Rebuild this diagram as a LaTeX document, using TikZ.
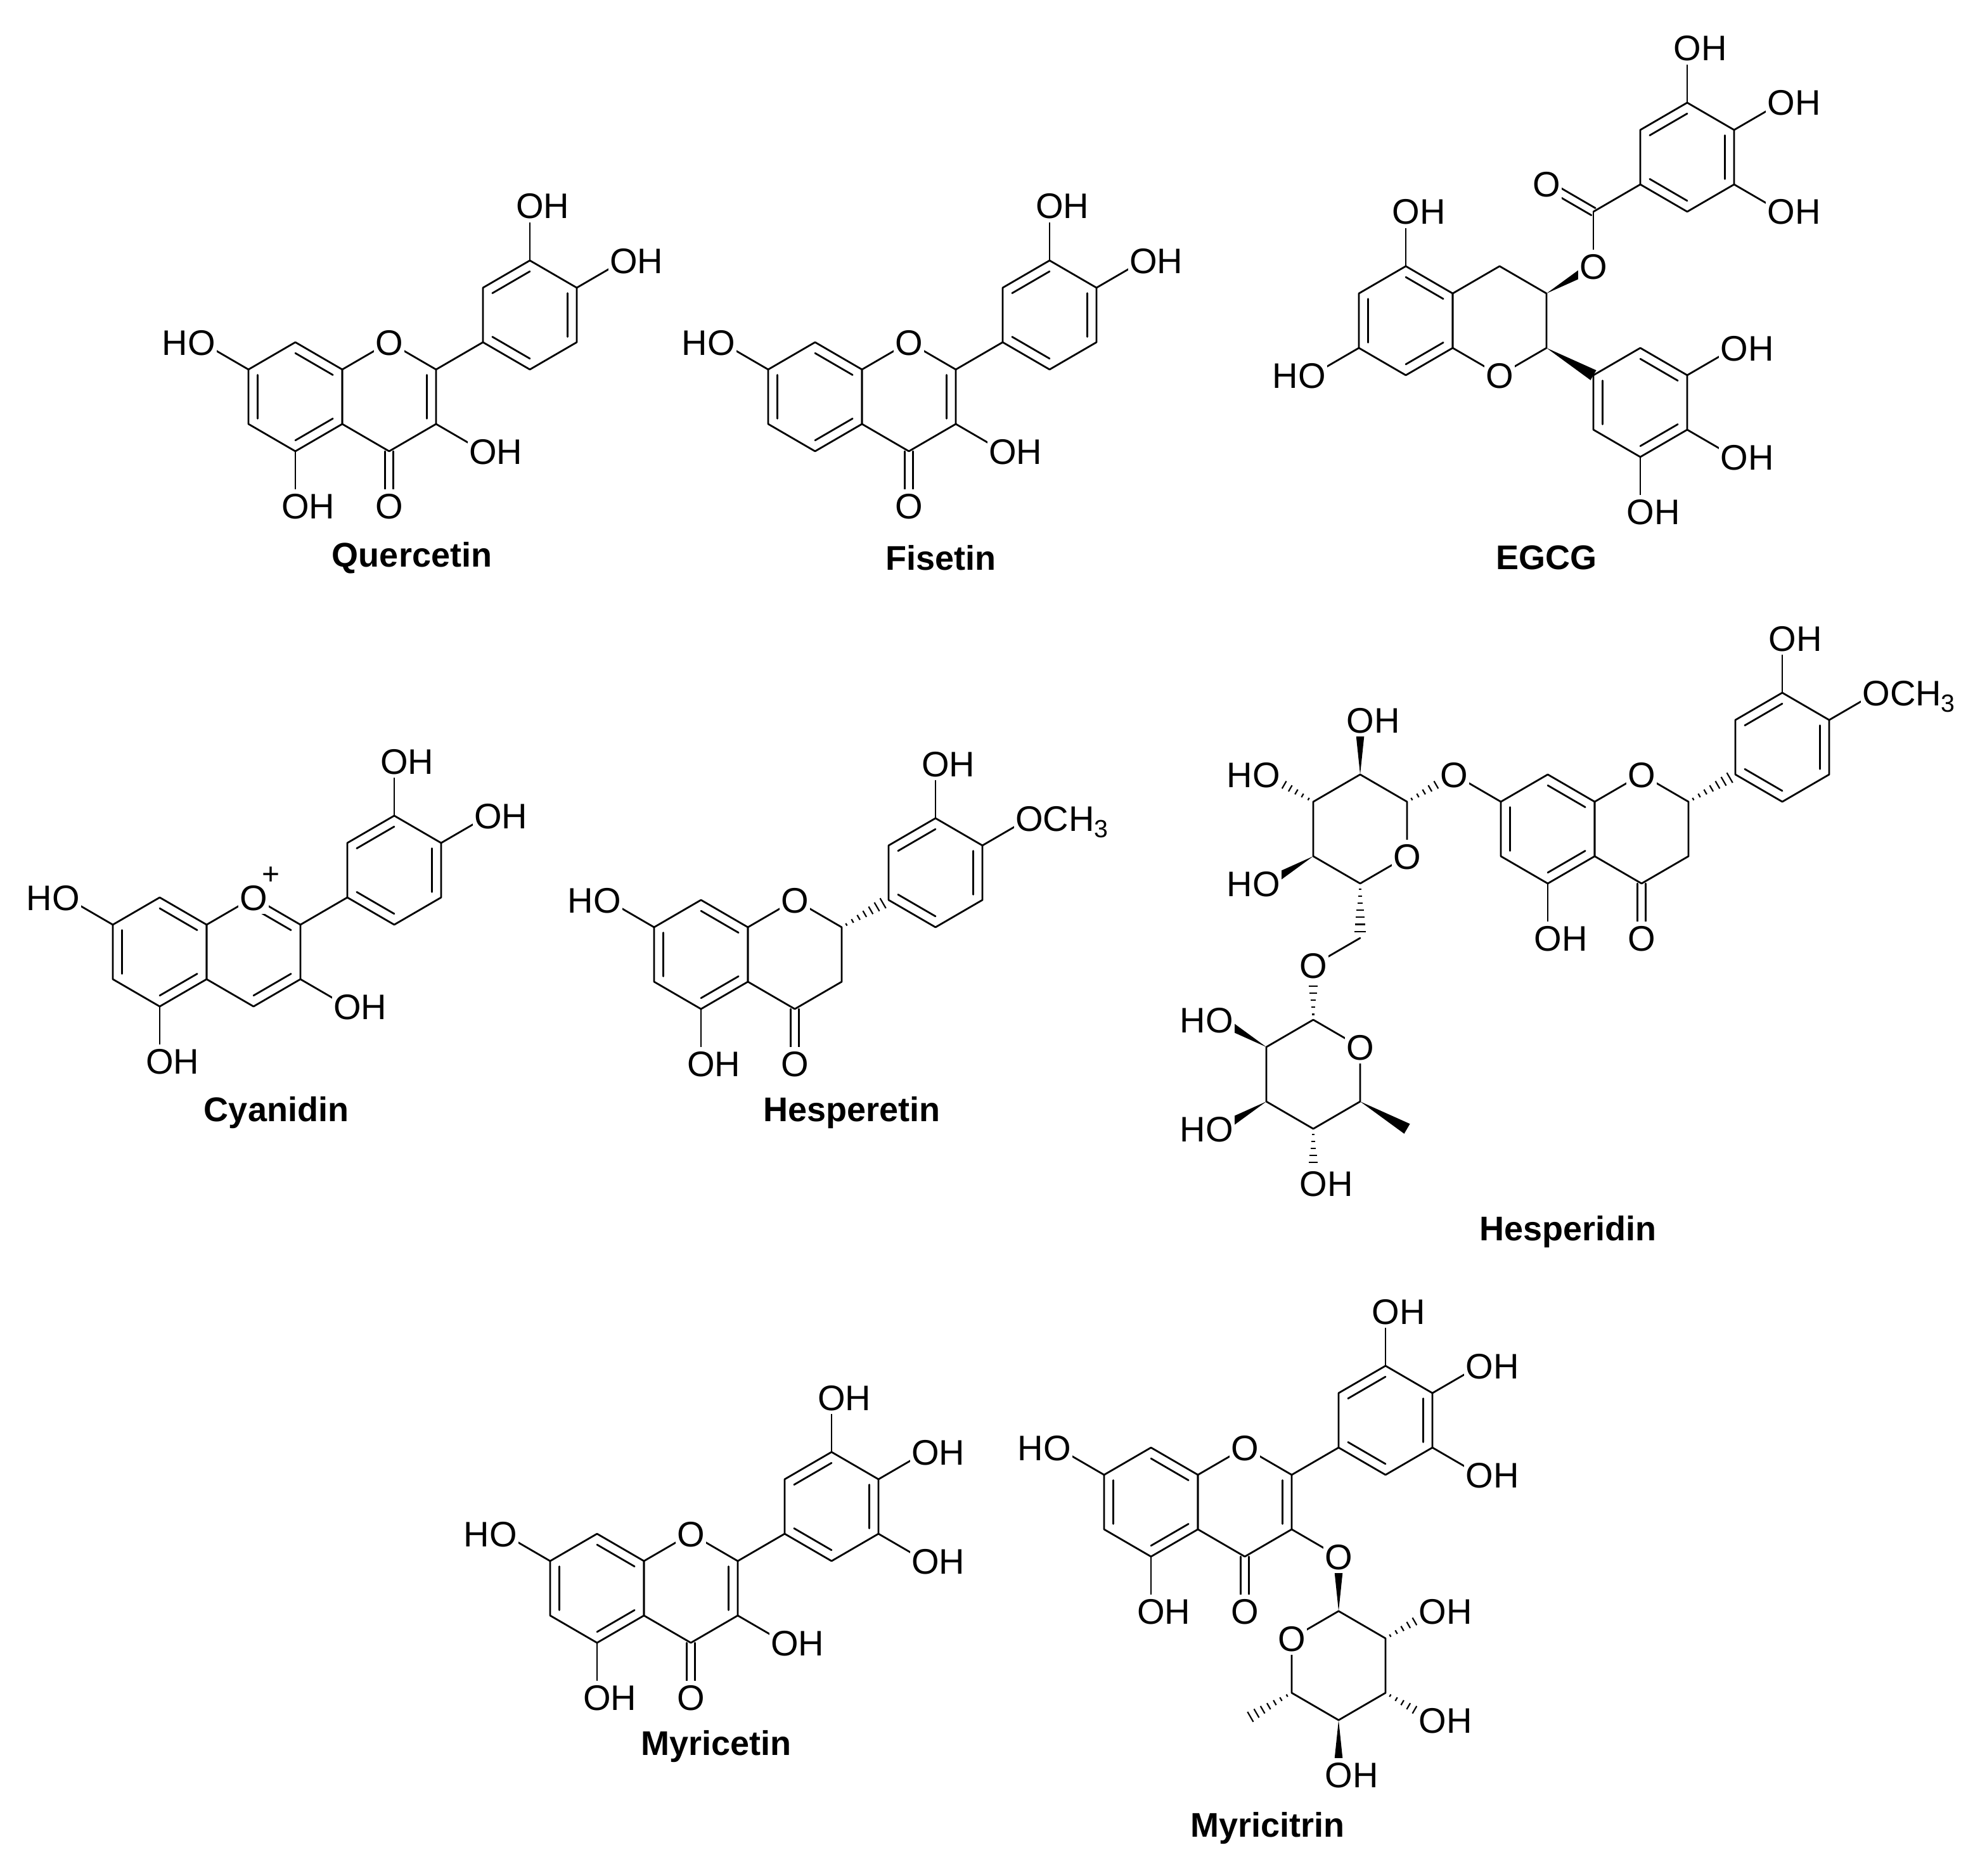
\documentclass[tikz,border=0pt]{standalone}
\usepackage{fontspec}
\setmainfont{Liberation Sans}
\usetikzlibrary{calc}
\tikzset{
  bd/.style={line width=1.4pt,line cap=round,line join=round},
  hashline/.style={line width=1.1pt},
  lab/.style={font=\fontsize{28}{28}\selectfont,fill=white,inner xsep=1pt,inner ysep=3pt,text height=20pt,text depth=0pt},
  ttl/.style={font=\fontsize{27}{27}\selectfont\bfseries}
}
\newcommand\hexa[2]{\draw[bd] ({#1},{#2-2})--({#1+1},{#2-1})--({#1+1},{#2+1})--({#1},{#2+2})--({#1-1},{#2+1})--({#1-1},{#2-1})--cycle;}
\newcommand\inb[6]{\draw[bd] ($({#1},{#2})!.2!({#5},{#6})$) -- ($({#3},{#4})!.2!({#5},{#6})$);}
\newcommand\dA[2]{\inb{#1}{#2-2}{#1+1}{#2-1}{#1}{#2}\inb{#1-1}{#2-1}{#1-1}{#2+1}{#1}{#2}\inb{#1+1}{#2+1}{#1}{#2+2}{#1}{#2}}
\newcommand\dB[2]{\inb{#1}{#2-2}{#1-1}{#2-1}{#1}{#2}\inb{#1+1}{#2-1}{#1+1}{#2+1}{#1}{#2}\inb{#1-1}{#2+1}{#1}{#2+2}{#1}{#2}}
\newcommand\bnd[4]{\draw[bd] ({#1},{#2})--({#3},{#4});}
\newcommand\dblv[3]{\draw[bd] ([xshift=-3.2pt]{#1},{#2})--([xshift=-3.2pt]{#1},{#3}); \draw[bd] ([xshift=3.2pt]{#1},{#2})--([xshift=3.2pt]{#1},{#3});}
\newcommand\wdg[4]{\fill ({#1},{#2}) -- ($({#3},{#4})!4.5pt!90:({#1},{#2})$) -- ($({#3},{#4})!4.5pt!-90:({#1},{#2})$) -- cycle;}
\newcommand\hsh[4]{\foreach \t in {0.1,0.23,0.36,0.49,0.62,0.75,0.88}{\pgfmathsetmacro\w{0.6+\t*4.5}\draw[hashline] ($({#1},{#2})!\t!({#3},{#4})!\w pt!90:({#3},{#4})$) -- ($({#1},{#2})!\t!({#3},{#4})!\w pt!-90:({#3},{#4})$);}}
\newcommand\OHr[2]{\node[lab,anchor=west,xshift=-12pt] at ({#1},{#2}) {OH};}
\newcommand\HOl[2]{\node[lab,anchor=east,xshift=12pt] at ({#1},{#2}) {HO};}
\newcommand\Oat[2]{\node[lab] at ({#1},{#2}) {O};}
\newcommand\OMe[2]{\node[lab,anchor=west,xshift=-12pt] at ({#1},{#2}) {OCH\textsubscript{3}};}
% flavone-type skeleton: ring A (0,0), ring C (2,0), B ring (5,-3)
\newcommand\flav{\hexa{0}{0}\dA{0}{0}\hexa{2}{0}\hexa{5}{-3}\dB{5}{-3}
  \bnd{-1}{-1}{-2}{-2}\bnd{5}{-5}{5}{-7}\bnd{6}{-4}{7}{-5}}
\begin{document}
\begin{tikzpicture}
\useasboundingbox (0,0) rectangle (1562pt,-1479.5pt);
\fill[white] (0,0) rectangle (1562pt,-1479.5pt);
% Quercetin
\begin{scope}[shift={(233pt,-313pt)},x=37pt,y=-21.5pt]
\flav \inb{3}{-1}{3}{1}{2}{0}\bnd{3}{-1}{4}{-2}
\dblv{2}{2}{4}\bnd{0}{2}{0}{4}\bnd{3}{1}{4}{2}
\Oat{2}{-2}\Oat{2}{4}\HOl{-2}{-2}\OHr{0}{4}\OHr{4}{2}\OHr{5}{-7}\OHr{7}{-5}
\end{scope}
\node[ttl] (t1) at (325pt,-440pt) {Quercetin};
% Fisetin
\begin{scope}[shift={(643pt,-313pt)},x=37pt,y=-21.5pt]
\flav \inb{3}{-1}{3}{1}{2}{0}\bnd{3}{-1}{4}{-2}
\dblv{2}{2}{4}\bnd{3}{1}{4}{2}
\Oat{2}{-2}\Oat{2}{4}\HOl{-2}{-2}\OHr{4}{2}\OHr{5}{-7}\OHr{7}{-5}
\end{scope}
\node[ttl] (t2) at (742pt,-440pt) {Fisetin};
% EGCG
\begin{scope}[shift={(1109pt,-253pt)},x=37pt,y=-21.5pt]
\hexa{0}{0}\dA{0}{0}\hexa{2}{0}
\bnd{0}{-2}{0}{-4}\bnd{-1}{1}{-2}{2}
\wdg{3}{-1}{4}{-2}\bnd{4}{-2}{4}{-4}
\draw[bd] ([shift={(1.6pt,2.8pt)}]4,-4)--([shift={(1.6pt,2.8pt)}]3,-5);
\draw[bd] ([shift={(-1.6pt,-2.8pt)}]4,-4)--([shift={(-1.6pt,-2.8pt)}]3,-5);
\bnd{4}{-4}{5}{-5}\hexa{6}{-6}\dB{6}{-6}
\bnd{6}{-8}{6}{-10}\bnd{7}{-7}{8}{-8}\bnd{7}{-5}{8}{-4}
\wdg{3}{1}{4}{2}\hexa{5}{3}\dA{5}{3}
\bnd{6}{2}{7}{1}\bnd{6}{4}{7}{5}\bnd{5}{5}{5}{7}
\Oat{2}{2}\Oat{4}{-2}\Oat{3}{-5}\OHr{0}{-4}\HOl{-2}{2}
\OHr{6}{-10}\OHr{8}{-8}\OHr{8}{-4}\OHr{7}{1}\OHr{7}{5}\OHr{5}{7}
\end{scope}
\node[ttl] (t3) at (1220pt,-440pt) {EGCG};
% Cyanidin
\begin{scope}[shift={(126pt,-751pt)},x=37pt,y=-21.5pt]
\flav \inb{2}{-2}{3}{-1}{2}{0}\inb{3}{1}{2}{2}{2}{0}\bnd{3}{-1}{4}{-2}
\bnd{0}{2}{0}{4}\bnd{3}{1}{4}{2}
\Oat{2}{-2}\HOl{-2}{-2}\OHr{0}{4}\OHr{4}{2}\OHr{5}{-7}\OHr{7}{-5}
\node[font=\fontsize{24}{24}\selectfont,inner sep=0pt] at ([shift={(14pt,17pt)}]2,-2) {+};
\end{scope}
\node[ttl] (t4) at (218pt,-878pt) {Cyanidin};
% Hesperetin
\begin{scope}[shift={(553pt,-753pt)},x=37pt,y=-21.5pt]
\hexa{0}{0}\dA{0}{0}\hexa{2}{0}\hexa{5}{-3}\dB{5}{-3}
\bnd{-1}{-1}{-2}{-2}\bnd{5}{-5}{5}{-7}\bnd{6}{-4}{7}{-5}
\hsh{3}{-1}{4}{-2}\dblv{2}{2}{4}\bnd{0}{2}{0}{4}
\Oat{2}{-2}\Oat{2}{4}\HOl{-2}{-2}\OHr{0}{4}\OHr{5}{-7}\OMe{7}{-5}
\end{scope}
\node[ttl] (t5) at (672pt,-878pt) {Hesperetin};
% Hesperidin
\begin{scope}[shift={(1221pt,-654pt)},x=37pt,y=-21.5pt]
\hexa{0}{0}\dA{0}{0}\hexa{2}{0}\hexa{5}{-3}\dB{5}{-3}
\bnd{-1}{-1}{-2}{-2}\bnd{5}{-5}{5}{-7}\bnd{6}{-4}{7}{-5}
\hsh{3}{-1}{4}{-2}\dblv{2}{2}{4}\bnd{0}{2}{0}{4}
\hsh{-3}{-1}{-2}{-2}
\draw[bd] (-3,-1)--(-3,1)--(-4,2)--(-5,1)--(-5,-1)--(-4,-2)--cycle;
\wdg{-4}{-2}{-4}{-4}\hsh{-5}{-1}{-6}{-2}\wdg{-5}{1}{-6}{2}
\hsh{-4}{2}{-4}{4}\bnd{-4}{4}{-5}{5}\hsh{-5}{7}{-5}{5}
\draw[bd] (-5,7)--(-4,8)--(-4,10)--(-5,11)--(-6,10)--(-6,8)--cycle;
\wdg{-6}{8}{-7}{7}\wdg{-6}{10}{-7}{11}\hsh{-5}{11}{-5}{13}\wdg{-4}{10}{-3}{11}
\Oat{2}{-2}\Oat{2}{4}\Oat{-2}{-2}\OHr{0}{4}\OHr{5}{-7}\OMe{7}{-5}
\Oat{-3}{1}\Oat{-5}{5}\Oat{-4}{8}
\OHr{-4}{-4}\HOl{-6}{-2}\HOl{-6}{2}\HOl{-7}{7}\HOl{-7}{11}\OHr{-5}{13}
\end{scope}
\node[ttl] (t6) at (1237pt,-972pt) {Hesperidin};
% Myricetin
\begin{scope}[shift={(471pt,-1253pt)},x=37pt,y=-21.5pt]
\flav \inb{3}{-1}{3}{1}{2}{0}\bnd{3}{-1}{4}{-2}
\dblv{2}{2}{4}\bnd{0}{2}{0}{4}\bnd{3}{1}{4}{2}\bnd{6}{-2}{7}{-1}
\Oat{2}{-2}\Oat{2}{4}\HOl{-2}{-2}\OHr{0}{4}\OHr{4}{2}\OHr{5}{-7}\OHr{7}{-5}\OHr{7}{-1}
\end{scope}
\node[ttl] (t7) at (565pt,-1378pt) {Myricetin};
% Myricitrin
\begin{scope}[shift={(908pt,-1185pt)},x=37pt,y=-21.5pt]
\flav \inb{3}{-1}{3}{1}{2}{0}\bnd{3}{-1}{4}{-2}
\dblv{2}{2}{4}\bnd{0}{2}{0}{4}\bnd{3}{1}{4}{2}\bnd{6}{-2}{7}{-1}
\wdg{4}{4}{4}{2}
\draw[bd] (4,4)--(5,5)--(5,7)--(4,8)--(3,7)--(3,5)--cycle;
\hsh{5}{5}{6}{4}\hsh{5}{7}{6}{8}\wdg{4}{8}{4}{10}\hsh{3}{7}{2}{8}
\Oat{2}{-2}\Oat{2}{4}\HOl{-2}{-2}\OHr{0}{4}\OHr{5}{-7}\OHr{7}{-5}\OHr{7}{-1}
\Oat{4}{2}\Oat{3}{5}\OHr{6}{4}\OHr{6}{8}\OHr{4}{10}
\end{scope}
\node[ttl] (t8) at (1000pt,-1442pt) {Myricitrin};
\end{tikzpicture}
\end{document}
